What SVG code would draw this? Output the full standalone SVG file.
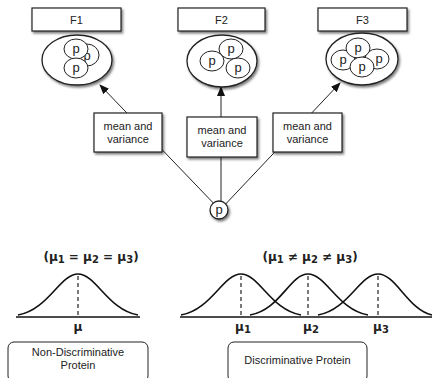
<svg xmlns="http://www.w3.org/2000/svg" width="435" height="378" viewBox="0 0 435 378">
<defs>
<filter id="sh" x="-20%" y="-20%" width="150%" height="150%">
<feDropShadow dx="1.5" dy="2" stdDeviation="1.2" flood-color="#000" flood-opacity="0.5"/>
</filter>
<marker id="ah" markerWidth="10" markerHeight="8" refX="9" refY="4" orient="auto" markerUnits="userSpaceOnUse">
<path d="M0,0 L10,4 L0,8 Z" fill="#111"/>
</marker>
</defs>
<style>
.box{fill:#fff;stroke:#222;stroke-width:1.2;filter:url(#sh)}
.ell{fill:#fff;stroke:#222;stroke-width:1.3;filter:url(#sh)}
.in{fill:#fff;stroke:#222;stroke-width:1}
.t{font-family:"Liberation Sans",Arial,sans-serif;font-size:11px;fill:#222;text-anchor:middle}
.p{font-family:"Liberation Sans",Arial,sans-serif;font-size:13px;fill:#222;text-anchor:middle}
.con{stroke:#222;stroke-width:1;fill:none}
.curve{stroke:#111;stroke-width:1.6;fill:none}
.base{stroke:#111;stroke-width:1.5}
.dash{stroke:#222;stroke-width:1.2;stroke-dasharray:4,3}
.m{font-family:"DejaVu Sans",sans-serif;font-size:12px;font-weight:bold;fill:#222;text-anchor:middle}
.rb{fill:#fff;stroke:#222;stroke-width:1}
</style>
<g id="connectors">
<line class="con" x1="220" y1="210" x2="100" y2="85" marker-end="url(#ah)"/>
<line class="con" x1="221" y1="201" x2="221" y2="87" marker-end="url(#ah)"/>
<line class="con" x1="220" y1="210" x2="340" y2="83" marker-end="url(#ah)"/>
</g>
<g id="F1">
<rect class="box" x="32" y="8" width="89" height="23"/>
<text class="t" x="76.5" y="23.5">F1</text>
<ellipse class="ell" cx="77" cy="60" rx="35" ry="25"/>
<ellipse class="in" cx="87" cy="55" rx="12" ry="11"/>
<text class="p" x="87" y="60">p</text>
<ellipse class="in" cx="76" cy="49" rx="12" ry="10"/>
<ellipse class="in" cx="76" cy="68" rx="12" ry="10"/>
<text class="p" x="76" y="53">p</text>
<text class="p" x="76" y="72">p</text>
</g>
<g id="F2">
<rect class="box" x="178" y="8" width="87" height="23"/>
<text class="t" x="221.5" y="23.5">F2</text>
<ellipse class="ell" cx="222" cy="61" rx="35" ry="26"/>
<ellipse class="in" cx="231" cy="49" rx="12" ry="10"/>
<ellipse class="in" cx="212" cy="61" rx="12" ry="10"/>
<ellipse class="in" cx="238" cy="68" rx="12" ry="10"/>
<text class="p" x="231" y="53">p</text>
<text class="p" x="212" y="65">p</text>
<text class="p" x="238" y="72">p</text>
</g>
<g id="F3">
<rect class="box" x="318" y="8" width="89" height="23"/>
<text class="t" x="362.5" y="23.5">F3</text>
<ellipse class="ell" cx="362" cy="59" rx="36" ry="26"/>
<ellipse class="in" cx="343" cy="60" rx="12" ry="10"/>
<ellipse class="in" cx="377" cy="59" rx="12" ry="10"/>
<text class="p" x="343" y="64">p</text>
<text class="p" x="379" y="63">p</text>
<ellipse class="in" cx="358" cy="48" rx="12" ry="10"/>
<ellipse class="in" cx="362" cy="67" rx="12" ry="10"/>
<text class="p" x="358" y="52">p</text>
<text class="p" x="362" y="71">p</text>
</g>
<g id="mv1">
<rect class="box" x="94" y="113" width="68" height="39"/>
<text class="t" x="128" y="130">mean and</text>
<text class="t" x="128" y="143">variance</text>
</g>
<g id="mv2">
<rect class="box" x="187" y="117" width="70" height="40"/>
<text class="t" x="222" y="134">mean and</text>
<text class="t" x="222" y="147">variance</text>
</g>
<g id="mv3">
<rect class="box" x="273" y="113" width="69" height="39"/>
<text class="t" x="307.5" y="130">mean and</text>
<text class="t" x="307.5" y="143">variance</text>
</g>
<g id="p">
<circle class="ell" cx="219" cy="210" r="9"/>
<text class="p" x="219" y="214">p</text>
</g>
<g id="nondisc">
<text class="m" x="91" y="261">(μ<tspan font-size="10" dy="2">1</tspan><tspan dy="-2"> = μ</tspan><tspan font-size="10" dy="2">2</tspan><tspan dy="-2"> = μ</tspan><tspan font-size="10" dy="2">3</tspan><tspan dy="-2">)</tspan></text>
<path class="curve" d="M18,315 C48,310 60,274 78,274 C96,274 108,310 138,315"/>
<line class="base" x1="16" y1="317" x2="140" y2="317"/>
<line class="dash" x1="78" y1="276" x2="78" y2="317"/>
<text class="m" x="78" y="331">μ</text>
<rect class="rb" x="8" y="342" width="140" height="40" rx="6"/>
<text class="t" x="78" y="356">Non-Discriminative</text>
<text class="t" x="78" y="369">Protein</text>
</g>
<g id="disc">
<text class="m" x="310" y="261">(μ<tspan font-size="10" dy="2">1</tspan><tspan dy="-2"> ≠ μ</tspan><tspan font-size="10" dy="2">2</tspan><tspan dy="-2"> ≠ μ</tspan><tspan font-size="10" dy="2">3</tspan><tspan dy="-2">)</tspan></text>
<path class="curve" d="M181,315 C211,310 223,274 241,274 C259,274 271,310 301,315"/>
<path class="curve" d="M250,315 C280,310 290,274 308,274 C326,274 338,310 368,315"/>
<path class="curve" d="M318,315 C348,310 360,274 378,274 C396,274 408,310 432,315"/>
<line class="base" x1="180" y1="317" x2="432" y2="317"/>
<line class="dash" x1="241" y1="276" x2="241" y2="317"/>
<line class="dash" x1="308" y1="276" x2="308" y2="317"/>
<line class="dash" x1="378" y1="276" x2="378" y2="317"/>
<text class="m" x="243" y="331">μ<tspan font-size="10" dy="2">1</tspan></text>
<text class="m" x="311" y="331">μ<tspan font-size="10" dy="2">2</tspan></text>
<text class="m" x="381" y="331">μ<tspan font-size="10" dy="2">3</tspan></text>
<rect class="rb" x="228" y="342" width="139" height="40" rx="6"/>
<text class="t" x="297.5" y="364">Discriminative Protein</text>
</g>
</svg>
